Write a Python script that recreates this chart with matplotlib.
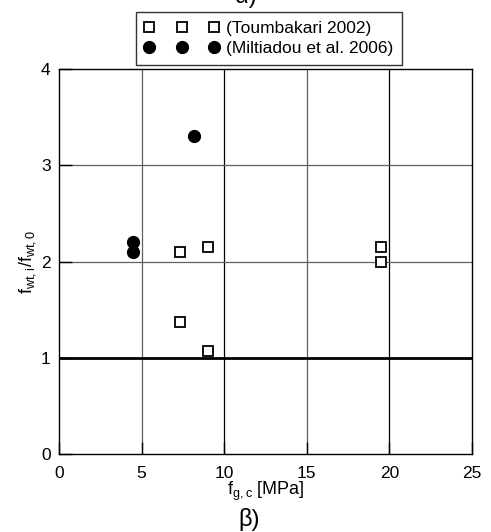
import matplotlib
matplotlib.use("Agg")
import matplotlib.pyplot as plt

plt.rcParams['font.family'] = ['Liberation Sans', 'DejaVu Sans']

toum_x = [7.3, 9.0, 7.3, 9.0, 19.5, 19.5]
toum_y = [2.10, 2.15, 1.37, 1.07, 2.15, 2.00]
milt_x = [4.5, 4.5, 8.2]
milt_y = [2.20, 2.10, 3.30]
xticks = [0, 5, 10, 15, 20, 25]
yticks = [0, 1, 2, 3, 4]

fig = plt.figure(figsize=(4.91, 5.32), dpi=100)
ax = fig.add_axes([59/491, 1-454/532, (472-59)/491, (454-69)/532])
ax.set_xlim(0, 25)
ax.set_ylim(0, 4)
ax.set_xticks(xticks)
ax.set_yticks(yticks)

for xv in [5, 15]:
    ax.axvline(xv, color='#606060', lw=0.9, zorder=1)
for xv in [10, 20]:
    ax.axvline(xv, color='black', lw=0.9, zorder=1)
for yv in [2, 3]:
    ax.axhline(yv, color='#606060', lw=0.9, zorder=1)
ax.axhline(1, color='black', lw=2.0, zorder=2)

ax.plot(toum_x, toum_y, linestyle='none', marker='s', markersize=7.5, markerfacecolor='white',
        markeredgecolor='black', markeredgewidth=1.3, zorder=3, label='(Toumbakari 2002)')
ax.plot(milt_x, milt_y, linestyle='none', marker='o', markersize=8.5, markerfacecolor='black',
        markeredgecolor='black', zorder=3, label='(Miltiadou et al. 2006)')

ax.tick_params(direction='in', length=9, width=1.0, labelsize=12.5)
ax.tick_params(axis='x', pad=8.5)
ax.tick_params(axis='y', pad=6)
for s in ax.spines.values():
    s.set_linewidth(1.0)

ax.set_xlabel('f$_{\\mathregular{g,c}}$ [MPa]', fontsize=13, labelpad=-1)
ax.set_ylabel('f$_{\\mathregular{wt,i}}$/f$_{\\mathregular{wt,0}}$', fontsize=13, labelpad=2)

leg = ax.legend(loc='lower center', bbox_to_anchor=(0.508, 1.0104), numpoints=3,
                fontsize=12.5, frameon=True, fancybox=False, edgecolor='black',
                handletextpad=0.39, borderpad=0.5, labelspacing=0.3, handlelength=4.33,
                borderaxespad=0)
leg.get_frame().set_linewidth(1.0)

fig.text(0.5, 1.0 + 14/532, 'α)', ha='center', va='top', fontsize=17)
fig.text(0.508, 1/532, 'β)', ha='center', va='bottom', fontsize=17)

fig.savefig('out.png', dpi=100)
